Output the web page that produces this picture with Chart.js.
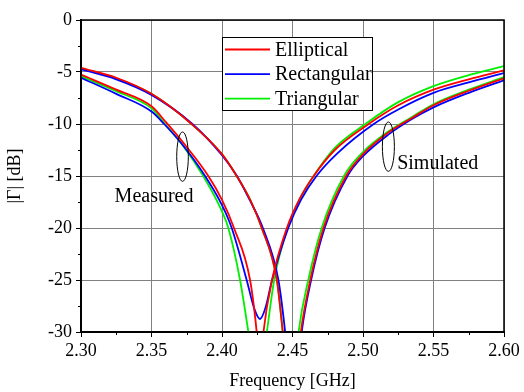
<!DOCTYPE html>
<html>
<head>
<meta charset="utf-8">
<script src="https://cdn.jsdelivr.net/npm/chart.js@4/dist/chart.umd.min.js"></script>
<style>
  html, body { margin: 0; padding: 0; background: #fff; }
  #wrap { width: 524px; height: 392px; }
</style>
</head>
<body>
<div id="wrap"><canvas id="gammaChart"></canvas></div>
<script>
// Measured curves
const measEllFreq = [2.30, 2.325, 2.35, 2.3607, 2.3737, 2.3903, 2.40, 2.4085, 2.4199, 2.4246, 2.427, 2.4294, 2.4355, 2.446, 2.455, 2.465, 2.48, 2.504, 2.525, 2.55, 2.575, 2.60];
const measEllDb   = [-5.25, -6.7, -8.3, -9.9, -12.0, -15, -17.3, -20, -25, -30, -34, -30, -25, -20, -17.2, -15, -12.5, -10, -8.2, -6.7, -5.7, -4.85];

const measRectFreq = [2.30, 2.325, 2.35, 2.359, 2.372, 2.388, 2.40, 2.4069, 2.4175, 2.423, 2.427, 2.431, 2.4355, 2.447, 2.456, 2.467, 2.482, 2.5076, 2.525, 2.55, 2.575, 2.60];
const measRectDb   = [-5.55, -7.1, -8.8, -10, -12.0, -15, -17.8, -20, -25, -27.8, -28.75, -27.6, -25, -20, -17.3, -15, -12.8, -10, -8.6, -7.0, -6.0, -5.1];

const measTriFreq = [2.30, 2.325, 2.35, 2.3595, 2.3725, 2.3867, 2.40, 2.4045, 2.4128, 2.4187, 2.4252, 2.4318, 2.437, 2.4465, 2.455, 2.465, 2.48, 2.5017, 2.525, 2.55, 2.575, 2.60];
const measTriDb   = [-5.4, -6.85, -8.5, -10, -12.1, -15, -18.4, -20, -25, -30, -36, -30, -25, -20, -17.3, -15, -12.3, -10, -7.9, -6.36, -5.3, -4.44];

// Simulated curves
const simEllFreq = [2.30, 2.325, 2.35, 2.3784, 2.40, 2.4104, 2.42, 2.4282, 2.4389, 2.4431, 2.4495, 2.4559, 2.4626, 2.472, 2.488, 2.50, 2.5182, 2.535, 2.55, 2.575, 2.60];
const simEllDb   = [-4.6, -5.55, -7.1, -10, -12.9, -15, -17.3, -20, -25, -30, -38, -30, -25, -20, -15, -12.9, -10.8, -9.4, -8.2, -6.8, -5.6];

const simRectFreq = [2.30, 2.325, 2.35, 2.379, 2.40, 2.4106, 2.42, 2.429, 2.44, 2.4448, 2.4505, 2.4565, 2.4632, 2.4728, 2.489, 2.50, 2.5182, 2.535, 2.55, 2.575, 2.60];
const simRectDb   = [-4.75, -5.7, -7.2, -10, -13.0, -15, -17.4, -20, -25, -30, -38, -30, -25, -20, -15, -13.1, -11.0, -9.5, -8.4, -7.0, -5.8];

const simTriFreq = [2.30, 2.325, 2.35, 2.3784, 2.40, 2.4104, 2.42, 2.4282, 2.4389, 2.4431, 2.4487, 2.4543, 2.4612, 2.4707, 2.4865, 2.50, 2.5182, 2.535, 2.55, 2.575, 2.60];
const simTriDb   = [-4.65, -5.6, -7.1, -10, -12.9, -15, -17.3, -20, -25, -30, -38, -30, -25, -20, -15, -12.7, -10.7, -9.3, -8.1, -6.7, -5.5];

const legendLabels = ["Elliptical", "Rectangular", "Triangular"];
const legendColors = ["#ff0000", "#0000ff", "#00f000"];

const xMin = 2.30, xMax = 2.60, xStep = 0.05;
const yMin = -30, yMax = 0, yStep = 5;

const FONT = "'Liberation Serif', 'Times New Roman', serif";

function pts(f, d) { return f.map((x, i) => ({ x: x, y: d[i] })); }

function curve(label, f, d, color, order) {
  return {
    label: label,
    data: pts(f, d),
    borderColor: color,
    borderWidth: 1.8,
    pointRadius: 0,
    fill: false,
    cubicInterpolationMode: "monotone",
    order: order
  };
}

// frame, minor ticks, ellipses + notes, legend box
const extras = {
  id: "extras",
  beforeDatasetsDraw(chart) {
    const ctx = chart.ctx, ca = chart.chartArea;
    const xs = chart.scales.x, ys = chart.scales.y;
    ctx.save();
    ctx.strokeStyle = "#000";
    ctx.lineWidth = 1;
    // minor ticks
    for (let v = xMin + xStep / 2; v < xMax; v += xStep) {
      const px = Math.round(xs.getPixelForValue(v)) + 0.5;
      ctx.beginPath(); ctx.moveTo(px, ca.bottom); ctx.lineTo(px, ca.bottom + 3); ctx.stroke();
    }
    for (let v = yMin + yStep / 2; v < yMax; v += yStep) {
      const py = Math.round(ys.getPixelForValue(v)) + 0.5;
      ctx.beginPath(); ctx.moveTo(ca.left, py); ctx.lineTo(ca.left - 3, py); ctx.stroke();
    }
    ctx.restore();
  },
  afterDatasetsDraw(chart) {
    const ctx = chart.ctx, ca = chart.chartArea;
    const xs = chart.scales.x, ys = chart.scales.y;
    ctx.save();
    // frame
    ctx.strokeStyle = "#000";
    ctx.lineWidth = 1.5;
    ctx.strokeRect(ca.left, ca.top, ca.right - ca.left, ca.bottom - ca.top);

    // ellipses
    ctx.lineWidth = 1;
    ctx.beginPath();
    ctx.ellipse(xs.getPixelForValue(2.372), ys.getPixelForValue(-13.14), 5.8, 24.7, 0, 0, Math.PI * 2);
    ctx.stroke();
    ctx.beginPath();
    ctx.ellipse(xs.getPixelForValue(2.518), ys.getPixelForValue(-12.18), 6, 24.7, 0, 0, Math.PI * 2);
    ctx.stroke();

    // notes
    ctx.fillStyle = "#000";
    ctx.font = "20px " + FONT;
    ctx.textAlign = "center";
    ctx.textBaseline = "middle";
    ctx.fillText("Measured", xs.getPixelForValue(2.3518), ys.getPixelForValue(-17.0));
    ctx.fillText("Simulated", xs.getPixelForValue(2.553), ys.getPixelForValue(-13.85));

    // legend
    const lx = ca.left + 141, ly = ca.top + 17, lw = 150, lh = 73;
    ctx.fillStyle = "#fff";
    ctx.fillRect(lx, ly, lw, lh);
    ctx.strokeStyle = "#000";
    ctx.lineWidth = 1;
    ctx.strokeRect(lx + 0.5, ly + 0.5, lw, lh);
    ctx.textAlign = "left";
    legendLabels.forEach((t, i) => {
      const ry = ly + 12.5 + i * 24.6;
      ctx.strokeStyle = legendColors[i];
      ctx.lineWidth = 1.8;
      ctx.beginPath(); ctx.moveTo(lx + 3, ry); ctx.lineTo(lx + 48, ry); ctx.stroke();
      ctx.fillStyle = "#000";
      ctx.fillText(t, lx + 53, ry + 1);
    });
    ctx.restore();
  }
};

const ctx = document.getElementById("gammaChart").getContext("2d");
new Chart(ctx, {
  type: "line",
  data: {
    datasets: [
      curve("Triangular (meas.)", measTriFreq, measTriDb, legendColors[2], 6),
      curve("Rectangular (meas.)", measRectFreq, measRectDb, legendColors[1], 5),
      curve("Elliptical (meas.)", measEllFreq, measEllDb, legendColors[0], 2),
      curve("Triangular (sim.)", simTriFreq, simTriDb, legendColors[2], 4),
      curve("Rectangular (sim.)", simRectFreq, simRectDb, legendColors[1], 3),
      curve("Elliptical (sim.)", simEllFreq, simEllDb, legendColors[0], 1)
    ]
  },
  options: {
    responsive: true,
    maintainAspectRatio: false,
    animation: false,
    layout: { padding: { top: 20, right: 20, left: 0, bottom: 0 } },
    plugins: { legend: { display: false }, tooltip: { enabled: false } },
    scales: {
      x: {
        type: "linear",
        min: xMin, max: xMax,
        afterFit: s => { s.height = 60; },
        ticks: {
          stepSize: xStep,
          color: "#000",
          font: { family: FONT, size: 18 },
          padding: 3,
          maxRotation: 0,
          callback: v => Number(v).toFixed(2)
        },
        grid: { color: "#808080", lineWidth: 1, tickColor: "#000", tickLength: 5 },
        border: { color: "#000", width: 2 },
        title: {
          display: true, text: "Frequency [GHz]", color: "#000",
          font: { family: FONT, size: 18 }, padding: { top: 0, bottom: 0 }
        }
      },
      y: {
        min: yMin, max: yMax,
        afterFit: s => { s.width = 81; },
        ticks: {
          stepSize: yStep,
          color: "#000",
          font: { family: FONT, size: 18 },
          padding: 4,
          callback: v => String(v)
        },
        grid: { color: "#808080", lineWidth: 1, tickColor: "#000", tickLength: 5 },
        border: { color: "#000", width: 2 },
        title: {
          display: true, text: "|Γ| [dB]", color: "#000",
          font: { family: FONT, size: 18 }, padding: { top: 4, bottom: 4 }
        }
      }
    }
  },
  plugins: [extras]
});
</script>
</body>
</html>
